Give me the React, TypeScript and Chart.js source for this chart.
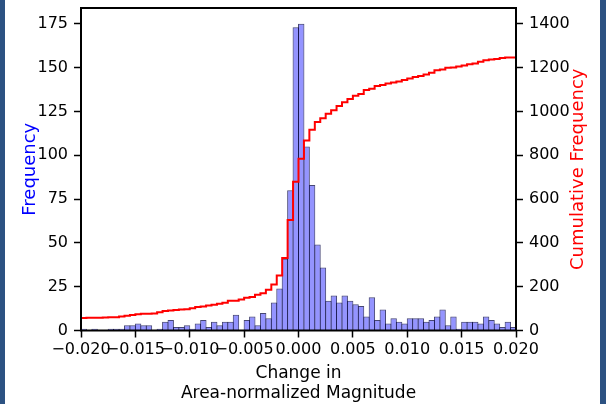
import React, { useEffect, useRef } from "react";
import { Chart, registerables } from "chart.js";

Chart.register(...registerables);

// Histogram bins: 80 bins of width 0.0005 from -0.020 to 0.020
const binStart = -0.02;
const binWidth = 0.0005;

// Frequency per bin
const frequency = [
  1, 0, 1, 0, 0, 1, 1, 1,
  3, 3, 4, 3, 3,
  0, 1,
  5, 6,
  2, 2, 3, 1,
  4, 6, 2, 5, 3, 5, 5, 9, 0,
  6, 8, 3, 10, 7,
  16, 24, 41, 80, 173, 175, 105, 83, 49, 36,
  17, 20, 16, 20, 17, 15, 14, 8, 19, 6, 12,
  4, 7, 5, 4, 7, 7, 7, 5, 6, 8, 12, 3, 8, 1, 5, 5, 5, 4, 8, 6, 4, 2, 5, 2,
];

// Counts lying below the visible range (where the cumulative line starts)
const countBelowRange = 56;

const xLimits = [-0.02, 0.02];
const xTickStep = 0.005;
const freqMax = 184;
const freqTickStep = 25;
const cumMax = 1472;
const cumTickStep = 200;

const xTitle = ["Change in", "Area-normalized Magnitude"];
const leftTitle = "Frequency";
const rightTitle = "Cumulative Frequency";

const FONT = "'DejaVu Sans', sans-serif";

export default function App() {
  const canvasRef = useRef<HTMLCanvasElement>(null);

  useEffect(() => {
    const canvas = canvasRef.current;
    if (!canvas) return;
    Chart.defaults.font.family = FONT;

    const barPoints = frequency.map((v, i) => ({
      x: binStart + (i + 0.5) * binWidth,
      y: v,
    }));
    let running = countBelowRange;
    const cumulative = frequency.map((v) => (running += v));
    const stepPoints = cumulative.map((c, i) => ({
      x: binStart + i * binWidth,
      y: c,
    }));
    stepPoints.push({
      x: binStart + frequency.length * binWidth,
      y: cumulative[cumulative.length - 1],
    });

    const framePlugin = {
      id: "frame",
      afterDatasetsDraw(chart: any) {
        const { ctx, chartArea } = chart;
        ctx.save();
        ctx.strokeStyle = "#000";
        ctx.lineWidth = 2;
        ctx.strokeRect(
          chartArea.left,
          chartArea.top,
          chartArea.right - chartArea.left,
          chartArea.bottom - chartArea.top
        );
        ctx.restore();
      },
      afterDraw(chart: any) {
        const { ctx, chartArea } = chart;
        ctx.save();
        ctx.translate(578, (chartArea.top + chartArea.bottom) / 2);
        ctx.rotate(-Math.PI / 2);
        ctx.fillStyle = "#ff0000";
        ctx.font = `18px ${FONT}`;
        ctx.textAlign = "center";
        ctx.textBaseline = "middle";
        ctx.fillText(rightTitle, 0, 0);
        ctx.restore();
      },
    };

    const tickGrid = {
      drawOnChartArea: false,
      drawTicks: true,
      tickLength: 7,
      tickWidth: 1.5,
      tickColor: "#000",
      offset: false,
    };

    const fitY = (width: number) => (s: any) => {
      s.width = width;
      s.paddingTop = 0;
      s.paddingBottom = 0;
    };

    const chart = new Chart(canvas, {
      type: "bar",
      data: {
        datasets: [
          {
            type: "line",
            label: rightTitle,
            data: stepPoints,
            xAxisID: "x",
            yAxisID: "y2",
            stepped: "after",
            borderColor: "#ff0000",
            borderWidth: 2,
            pointRadius: 0,
            fill: false,
            order: 0,
          } as any,
          {
            type: "bar",
            label: leftTitle,
            data: barPoints,
            xAxisID: "x",
            yAxisID: "y",
            backgroundColor: "rgba(0,0,255,0.42)",
            borderColor: "rgba(10,10,70,0.75)",
            borderWidth: 1,
            barPercentage: 1.18,
            categoryPercentage: 1,
            order: 1,
          } as any,
        ],
      },
      options: {
        animation: false,
        responsive: false,
        maintainAspectRatio: false,
        devicePixelRatio: 1,
        layout: { padding: { top: 8, left: 0, right: 0, bottom: 0 } },
        plugins: { legend: { display: false }, tooltip: { enabled: false } },
        scales: {
          x: {
            type: "linear",
            position: "bottom",
            min: xLimits[0],
            max: xLimits[1],
            offset: false,
            grid: tickGrid,
            border: { display: false },
            ticks: {
              stepSize: xTickStep,
              autoSkip: false,
              maxRotation: 0,
              minRotation: 0,
              includeBounds: false,
              padding: 3,
              color: "#000",
              font: { size: 16 },
              callback: (value: any) => {
                const v = Number(value);
                if (Math.abs(v) < 1e-9) return "0.000";
                return (v < 0 ? "\u2212" : "") + Math.abs(v).toFixed(3);
              },
            },
            title: {
              display: true,
              text: xTitle,
              color: "#000",
              font: { size: 17 },
              padding: { top: 0, bottom: 0 },
            },
            afterFit: (s: any) => {
              s.height = 73.5;
            },
          } as any,
          y: {
            type: "linear",
            position: "left",
            min: 0,
            max: freqMax,
            grid: tickGrid,
            border: { display: false },
            ticks: {
              stepSize: freqTickStep,
              includeBounds: false,
              padding: 6,
              color: "#000",
              font: { size: 16 },
              callback: (v: any) => String(v),
            },
            title: {
              display: true,
              text: leftTitle,
              color: "#0000ff",
              font: { size: 18 },
              padding: { top: 20, bottom: 0 },
            },
            afterFit: fitY(81),
          } as any,
          y2: {
            type: "linear",
            position: "right",
            min: 0,
            max: cumMax,
            grid: tickGrid,
            border: { display: false },
            ticks: {
              stepSize: cumTickStep,
              includeBounds: false,
              padding: 6,
              color: "#000",
              font: { size: 16 },
              callback: (v: any) => String(v),
            },
            afterFit: fitY(90),
          } as any,
        },
      },
      plugins: [framePlugin],
    });

    return () => chart.destroy();
  }, []);

  return (
    <div
      style={{
        position: "fixed",
        left: 0,
        top: 0,
        width: 606,
        height: 404,
        background: "#fff",
        overflow: "hidden",
      }}
    >
      <canvas
        ref={canvasRef}
        width={606}
        height={404}
        style={{ display: "block", width: 606, height: 404 }}
      />
      <div
        style={{
          position: "absolute",
          left: 0,
          top: 0,
          width: 5,
          height: 404,
          background: "#2c5282",
        }}
      />
      <div
        style={{
          position: "absolute",
          right: 0,
          top: 0,
          width: 6,
          height: 404,
          background: "#2c5282",
        }}
      />
    </div>
  );
}
